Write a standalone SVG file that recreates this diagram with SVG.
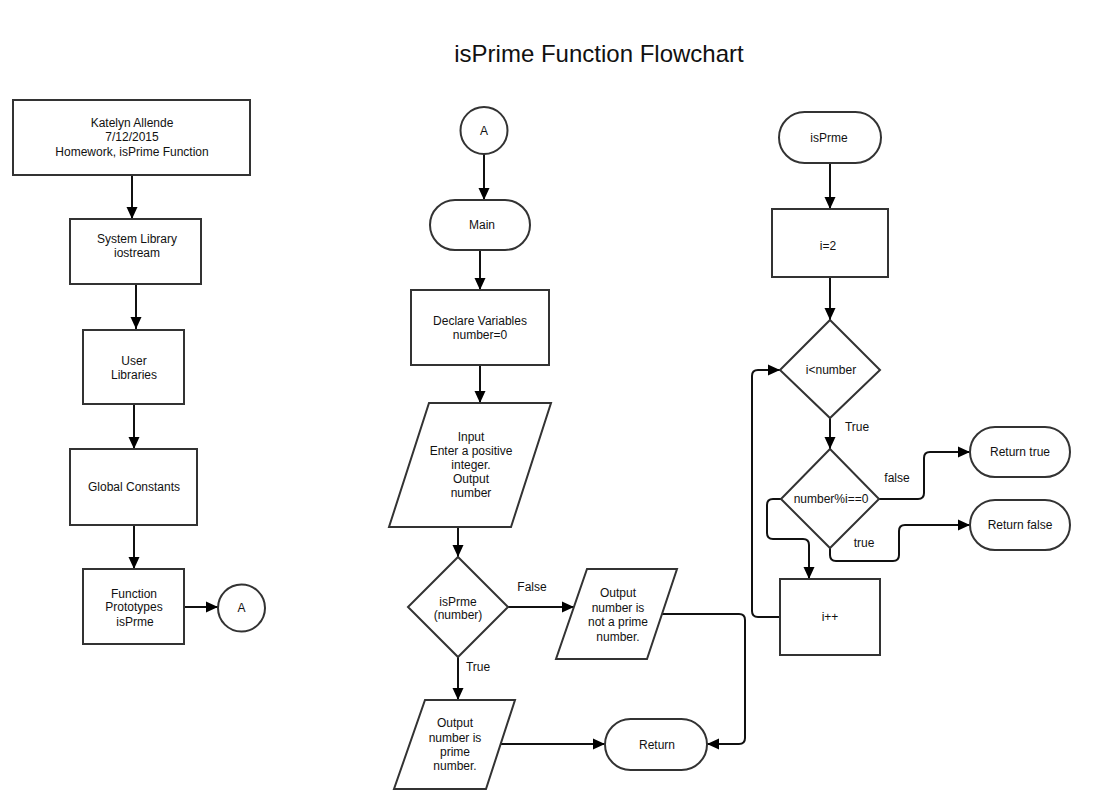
<svg xmlns="http://www.w3.org/2000/svg" width="1096" height="810" viewBox="0 0 1096 810">
<style>
.s{fill:#fff;stroke:#333;stroke-width:2}
.t{font-family:"Liberation Sans",Arial,sans-serif;font-size:12px;fill:#111;text-anchor:middle}
.c{fill:none;stroke:#111;stroke-width:2}
.title{font-family:"Liberation Sans",Arial,sans-serif;font-size:24px;fill:#111;text-anchor:middle}
</style>
<defs>
<marker id="ah" markerUnits="userSpaceOnUse" markerWidth="12" markerHeight="12" refX="12" refY="6" orient="auto">
<path d="M0,0.5 L12,6 L0,11.5 z" fill="#000"/>
</marker>
</defs>
<rect width="1096" height="810" fill="#fff"/>
<text class="title" x="599" y="62">isPrime Function Flowchart</text>

<g id="connectors" class="c" marker-end="url(#ah)">
<path d="M132,175 V219"/>
<path d="M136,284 V329"/>
<path d="M134,404 V449"/>
<path d="M134,525 V569"/>
<path d="M184,607 H218"/>
<path d="M484,154 V200"/>
<path d="M480,250 V290"/>
<path d="M480,365 V403"/>
<path d="M458,527 V557"/>
<path d="M458,657 V700"/>
<path d="M508,607 H574"/>
<path d="M501,744 H605"/>
<path d="M662,614 H739 Q745,614 745,620 V738 Q745,744 739,744 H707"/>
<path d="M830,163 V209"/>
<path d="M830,277 V320"/>
<path d="M830,418 V449"/>
<path d="M879,499 H918 Q924,499 924,493 V458 Q924,452 930,452 H970"/>
<path d="M830,548 V555 Q830,561 836,561 H893 Q899,561 899,555 V531 Q899,525 905,525 H970"/>
<path d="M781,499 H773 Q767,499 767,505 V533 Q767,539 773,539 H803 Q809,539 809,545 V579"/>
<path d="M780,617 H758 Q752,617 752,611 V376 Q752,370 758,370 H780"/>
</g>

<g id="header">
<rect class="s" x="13" y="100" width="237" height="75"/>
<text class="t" x="132" y="127">Katelyn Allende</text>
<text class="t" x="132" y="141">7/12/2015</text>
<text class="t" x="132" y="156">Homework, isPrime Function</text>
</g>
<g id="syslib">
<rect class="s" x="70" y="219" width="131" height="65"/>
<text class="t" x="137" y="243">System Library</text>
<text class="t" x="137" y="257">iostream</text>
</g>
<g id="userlib">
<rect class="s" x="83" y="330" width="101" height="74"/>
<text class="t" x="134" y="365">User</text>
<text class="t" x="134" y="379">Libraries</text>
</g>
<g id="globals">
<rect class="s" x="70" y="449" width="127" height="76"/>
<text class="t" x="134" y="491">Global Constants</text>
</g>
<g id="prototypes">
<rect class="s" x="83" y="569" width="101" height="75"/>
<text class="t" x="134" y="598">Function</text>
<text class="t" x="134" y="611">Prototypes</text>
<text class="t" x="135" y="626">isPrme</text>
</g>
<g id="connA1">
<circle class="s" cx="241.5" cy="608" r="23.5"/>
<text class="t" x="241.5" y="612">A</text>
</g>

<g id="connA2">
<circle class="s" cx="484" cy="130.5" r="23.5"/>
<text class="t" x="484" y="135">A</text>
</g>
<g id="main">
<rect class="s" x="430" y="200" width="100" height="50" rx="25"/>
<text class="t" x="482" y="229">Main</text>
</g>
<g id="declare">
<rect class="s" x="411" y="290" width="138" height="75"/>
<text class="t" x="480" y="325">Declare Variables</text>
<text class="t" x="480" y="339">number=0</text>
</g>
<g id="input">
<polygon class="s" points="429,403 551,403 511,527 389,527"/>
<text class="t" x="471" y="441">Input</text>
<text class="t" x="471" y="455">Enter a positive</text>
<text class="t" x="471" y="469">integer.</text>
<text class="t" x="471" y="483">Output</text>
<text class="t" x="471" y="497">number</text>
</g>
<g id="decision1">
<polygon class="s" points="458,557 508,607 458,657 408,607"/>
<text class="t" x="458" y="606">isPrme</text>
<text class="t" x="458" y="619">(number)</text>
</g>
<text class="t" x="532" y="591">False</text>
<text class="t" x="478" y="671">True</text>
<g id="notprime">
<polygon class="s" points="587,569 677,569 647,659 556,659"/>
<text class="t" x="618" y="597">Output</text>
<text class="t" x="618" y="612">number is</text>
<text class="t" x="618" y="626">not a prime</text>
<text class="t" x="618" y="641">number.</text>
</g>
<g id="isprimeout">
<polygon class="s" points="425,700 515,700 486,789 394,789"/>
<text class="t" x="455" y="727">Output</text>
<text class="t" x="455" y="742">number is</text>
<text class="t" x="455" y="756">prime</text>
<text class="t" x="455" y="770">number.</text>
</g>
<g id="return">
<rect class="s" x="605" y="719" width="102" height="51" rx="25.5"/>
<text class="t" x="657" y="749">Return</text>
</g>

<g id="isprme">
<rect class="s" x="779" y="112" width="102" height="51" rx="25.5"/>
<text class="t" x="829" y="142">isPrme</text>
</g>
<g id="init">
<rect class="s" x="772" y="209" width="116" height="68"/>
<text class="t" x="828" y="250">i=2</text>
</g>
<g id="decision2">
<polygon class="s" points="830,320 880,370 830,418 780,370"/>
<text class="t" x="831" y="374">i&lt;number</text>
</g>
<text class="t" x="857" y="431">True</text>
<g id="decision3">
<polygon class="s" points="830,449 879,499 830,548 781,499"/>
<text class="t" x="831" y="503">number%i==0</text>
</g>
<text class="t" x="897" y="482">false</text>
<text class="t" x="864" y="547">true</text>
<g id="rettrue">
<rect class="s" x="970" y="427" width="100" height="50" rx="25"/>
<text class="t" x="1020" y="456">Return true</text>
</g>
<g id="retfalse">
<rect class="s" x="970" y="500" width="100" height="50" rx="25"/>
<text class="t" x="1020" y="529">Return false</text>
</g>
<g id="incr">
<rect class="s" x="780" y="579" width="100" height="76"/>
<text class="t" x="830" y="621">i++</text>
</g>
</svg>
